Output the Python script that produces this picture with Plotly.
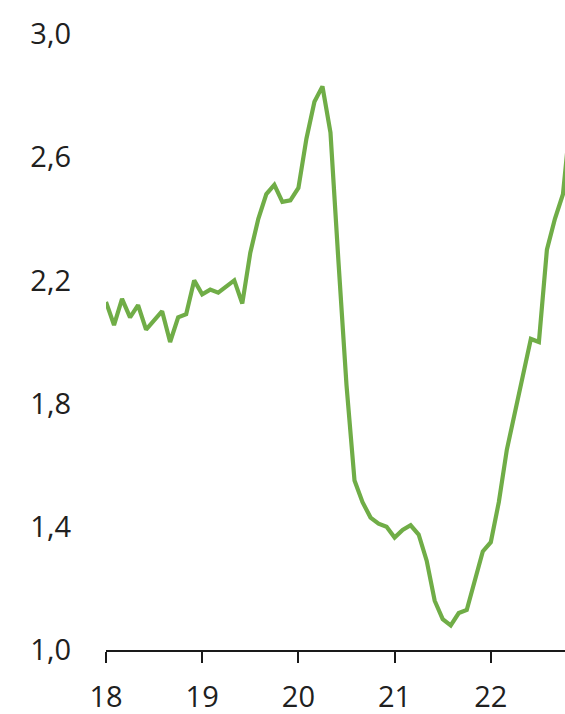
import plotly.graph_objects as go

# Monthly values, January 2018 onward
start_year = 18
values = [
    2.13, 2.055, 2.14, 2.08, 2.12, 2.04, 2.07, 2.10, 2.00, 2.08, 2.09, 2.20,   # 2018
    2.155, 2.17, 2.16, 2.18, 2.20, 2.125, 2.29, 2.40, 2.48, 2.51, 2.455, 2.46,  # 2019
    2.50, 2.66, 2.78, 2.83, 2.68, 2.26, 1.86, 1.55, 1.48, 1.43, 1.41, 1.40,     # 2020
    1.365, 1.39, 1.405, 1.375, 1.29, 1.16, 1.10, 1.08, 1.12, 1.13, 1.225, 1.32, # 2021
    1.35, 1.48, 1.65, 1.77, 1.89, 2.01, 2.00, 2.30, 2.40, 2.48, 2.74,          # 2022
]
x_years = [start_year + i / 12 for i in range(len(values))]

y_ticks = [1.0, 1.4, 1.8, 2.2, 2.6, 3.0]
x_ticks = [18, 19, 20, 21, 22]
x_ticktext = ["18", "19", "20", "21", "22"]

fig = go.Figure(
    go.Scatter(
        x=x_years,
        y=values,
        mode="lines",
        line=dict(color="#70AD47", width=4.2),
        hoverinfo="skip",
    )
)

font_family = "Open Sans"
fig.update_layout(
    width=565,
    height=714,
    margin=dict(l=106, r=0, t=34, b=64),
    paper_bgcolor="white",
    plot_bgcolor="white",
    showlegend=False,
    separators=",.",
    font=dict(family=font_family, size=29, color="#202020"),
)

fig.update_xaxes(
    range=[18, 18 + 459 / 96.2],
    tickvals=x_ticks,
    ticktext=x_ticktext,
    showgrid=False,
    zeroline=False,
    showline=True,
    linecolor="#1a1a1a",
    linewidth=2,
    ticks="outside",
    ticklen=11,
    tickwidth=2,
    tickcolor="#1a1a1a",
    ticklabelstandoff=9,
    automargin=False,
)

fig.update_yaxes(
    range=[1.0, 3.0],
    tickvals=y_ticks,
    tickformat=".1f",
    showgrid=False,
    zeroline=False,
    showline=False,
    ticks="",
    ticklabelstandoff=34,
    automargin=False,
)

fig.write_html("out.html")
